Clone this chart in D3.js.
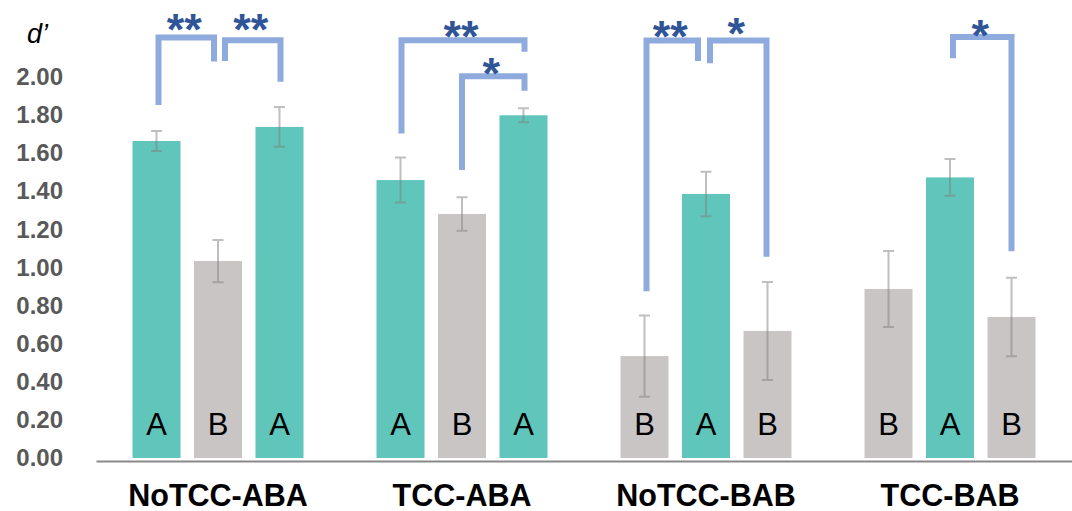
<!DOCTYPE html>
<html>
<head>
<meta charset="utf-8">
<script src="https://cdn.jsdelivr.net/npm/d3@7"></script>
<style>
  html, body { margin: 0; padding: 0; background: #fff; }
  svg { display: block; }
</style>
</head>
<body>
<svg id="chart" width="1072" height="511"></svg>
<script>
// Session groups and the condition shown by each of their three bars
const groups = ["NoTCC-ABA", "TCC-ABA", "NoTCC-BAB", "TCC-BAB"];
const conditions = [
  ["A", "B", "A"],
  ["A", "B", "A"],
  ["B", "A", "B"],
  ["B", "A", "B"]
];
// Mean d' per bar
const means = [
  [1.664, 1.034, 1.738],
  [1.459, 1.281, 1.799],
  [0.535, 1.386, 0.667],
  [0.887, 1.473, 0.740]
];
// Error half-widths per bar
const errors = [
  [0.052, 0.111, 0.104],
  [0.118, 0.088, 0.037],
  [0.213, 0.117, 0.257],
  [0.199, 0.096, 0.206]
];
const yTicks = [0, 0.2, 0.4, 0.6, 0.8, 1.0, 1.2, 1.4, 1.6, 1.8, 2.0];

// Significance brackets: bar pairs [group, bar], heights in d' units
const brackets = [
  { from: [0, 0], to: [0, 1], top: 2.208, fromEnd: 1.853, toEnd: 2.081, label: "**", labelAt: 2.256, nudge: [2, -4] },
  { from: [0, 1], to: [0, 2], top: 2.193, fromEnd: 2.084, toEnd: 1.975, label: "**", labelAt: 2.256, nudge: [7, 1] },
  { from: [1, 0], to: [1, 2], top: 2.193, fromEnd: 1.704, toEnd: 2.133, label: "**", labelAt: 2.220, nudge: [1, 1] },
  { from: [1, 1], to: [1, 2], top: 2.004, fromEnd: 1.512, toEnd: 1.928, label: "*",  labelAt: 2.028, nudge: [0, 1] },
  { from: [2, 0], to: [2, 1], top: 2.191, fromEnd: 0.875, toEnd: 2.084, label: "**", labelAt: 2.220, nudge: [2, -8] },
  { from: [2, 1], to: [2, 2], top: 2.191, fromEnd: 2.072, toEnd: 1.057, label: "*",  labelAt: 2.238, nudge: [4, -1] },
  { from: [3, 1], to: [3, 2], top: 2.210, fromEnd: 2.098, toEnd: 1.085, label: "*",  labelAt: 2.226, nudge: [3, 0] }
];

const colorFor = { A: "#60c5ba", B: "#c9c5c5" };
const bracketColor = "#8faadc";
const starColor = "#2f5597";
const FONT = "Liberation Sans, Arial, sans-serif";

const svg = d3.select("#chart");

const x = d3.scaleBand().domain(d3.range(groups.length)).range([96, 1072]).padding(0);
const xi = d3.scaleBand().domain([0, 1, 2]).range([-85.5, 85.5]).paddingInner(0.2195).paddingOuter(0);
const y = d3.scaleLinear().domain([0, 2]).range([458, 77]);

const barCenter = (g, i) => x(g) + x.bandwidth() / 2 + xi(i) + xi.bandwidth() / 2;

// Flatten data for drawing
const bars = [];
groups.forEach((name, g) => {
  means[g].forEach((m, i) => {
    bars.push({ g, i, mean: m, err: errors[g][i], cond: conditions[g][i] });
  });
});

// Y axis labels (no line, no ticks)
const yAxis = d3.axisLeft(y).tickValues(yTicks).tickFormat(d3.format(".2f")).tickSize(0).tickPadding(33);
const yg = svg.append("g").attr("transform", "translate(96,0)").call(yAxis);
yg.select(".domain").remove();
yg.selectAll("text")
  .attr("font-family", FONT)
  .attr("font-size", 24)
  .attr("font-weight", "bold")
  .attr("fill", "#595959");

// Axis title
svg.append("text")
  .attr("x", 27).attr("y", 43)
  .attr("font-family", FONT)
  .attr("font-size", 27)
  .attr("font-style", "italic")
  .attr("fill", "#000")
  .text("d’");

// Bars
svg.append("g").selectAll("rect")
  .data(bars)
  .join("rect")
  .attr("x", d => x(d.g) + x.bandwidth() / 2 + xi(d.i))
  .attr("width", xi.bandwidth())
  .attr("y", d => y(d.mean))
  .attr("height", d => y(0) - y(d.mean))
  .attr("fill", d => colorFor[d.cond]);

// Condition letters inside bars
svg.append("g").selectAll("text")
  .data(bars)
  .join("text")
  .attr("x", d => barCenter(d.g, d.i))
  .attr("y", y(0) - 23)
  .attr("text-anchor", "middle")
  .attr("font-family", FONT)
  .attr("font-size", 31)
  .attr("fill", "#000")
  .text(d => d.cond);

// Error bars
const eg = svg.append("g")
  .attr("stroke", "#7f7f7f")
  .attr("stroke-opacity", 0.5)
  .attr("stroke-width", 2)
  .attr("fill", "none");
bars.forEach(d => {
  const cx = barCenter(d.g, d.i);
  const y1 = y(d.mean + d.err), y2 = y(d.mean - d.err);
  eg.append("path")
    .attr("d", `M${cx},${y1}V${y2}M${cx - 5.5},${y1}H${cx + 5.5}M${cx - 5.5},${y2}H${cx + 5.5}`);
});

// Bottom axis line with group labels
const xAxis = d3.axisBottom(x).tickSize(0).tickSizeOuter(0).tickFormat(i => groups[i]);
const xg = svg.append("g").attr("transform", "translate(0,461)").call(xAxis);
xg.select(".domain").attr("stroke", "#898989").attr("stroke-width", 2);
xg.selectAll("text")
  .attr("dy", null)
  .attr("y", 45)
  .attr("font-family", FONT)
  .attr("font-size", 30.5)
  .attr("font-weight", "bold")
  .attr("fill", "#000");

// Significance brackets and stars
const bg = svg.append("g");
brackets.forEach(b => {
  const x1 = barCenter(b.from[0], b.from[1]) + b.nudge[0];
  const x2 = barCenter(b.to[0], b.to[1]) + b.nudge[1];
  bg.append("path")
    .attr("d", `M${x1},${y(b.fromEnd)}V${y(b.top)}H${x2}V${y(b.toEnd)}`)
    .attr("fill", "none")
    .attr("stroke", bracketColor)
    .attr("stroke-width", 6)
    .attr("stroke-linejoin", "miter")
    .attr("stroke-linecap", "butt");
  bg.append("text")
    .attr("x", (x1 + x2) / 2 - 2)
    .attr("y", y(b.labelAt) + 17)
    .attr("text-anchor", "middle")
    .attr("font-family", FONT)
    .attr("font-size", 45)
    .attr("font-weight", "bold")
    .attr("fill", starColor)
    .text(b.label);
});
</script>
</body>
</html>
